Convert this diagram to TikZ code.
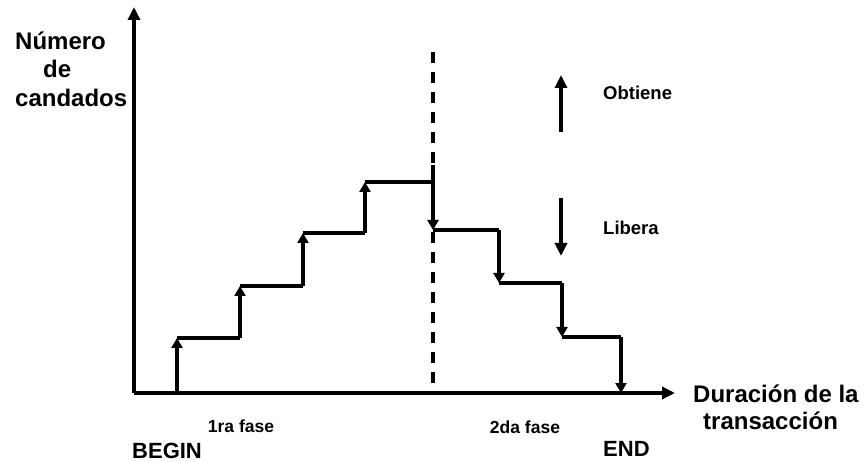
\documentclass[tikz,border=0pt]{standalone}
\usepackage{fontspec}
\setmainfont{Liberation Sans}
\usetikzlibrary{arrows.meta}
\begin{document}
\begin{tikzpicture}[x=1pt,y=-1pt,
  axis/.style={line width=3.4pt,-{Triangle[width=12pt,length=13pt]}},
  stepline/.style={line width=3.4pt,line join=miter},
  uparrow/.style={line width=3.4pt,-{Triangle[width=11pt,length=10pt]}},
  legendarrow/.style={line width=3.4pt,-{Triangle[width=12pt,length=13pt]}},
  phaseline/.style={line width=3.4pt,dash pattern=on 11pt off 9pt},
  biglbl/.style={font=\bfseries\fontsize{24}{29}\selectfont,inner sep=0pt,anchor=base west},
  midlbl/.style={font=\bfseries\fontsize{18.5}{22}\selectfont,inner sep=0pt,anchor=base west},
  phaselbl/.style={font=\bfseries\fontsize{17.5}{20}\selectfont,inner sep=0pt,anchor=base},
  endlbl/.style={font=\bfseries\fontsize{22}{26}\selectfont,inner sep=0pt,anchor=base west}]
\useasboundingbox[fill=white] (0,0) rectangle (865,462);

% axes
\coordinate (O) at (134,393);
\coordinate (ytop) at (134,7);
\coordinate (xend) at (675,393);
\draw[axis] (O) -- (ytop);
\draw[axis] (O) -- (xend);

% boundary between the two phases
\coordinate (ptop) at (433,52);
\coordinate (pbot) at (433,393);
\draw[phaseline] (ptop) -- (pbot);

% growing phase: locks obtained
\coordinate (u0) at (177,393);
\coordinate (u1) at (177,338);
\coordinate (u1r) at (240,338);
\coordinate (u2) at (240,286);
\coordinate (u2r) at (303,286);
\coordinate (u3) at (303,233);
\coordinate (u3r) at (365,233);
\coordinate (u4) at (365,182);
\coordinate (peak) at (433,182);
\coordinate (peaktop) at (433,165);
\draw[uparrow] (u0) -- (u1);
\draw[stepline] (u1) -- (u1r);
\draw[uparrow] (u1r) -- (u2);
\draw[stepline] (u2) -- (u2r);
\draw[uparrow] (u2r) -- (u3);
\draw[stepline] (u3) -- (u3r);
\draw[uparrow] (u3r) -- (u4);
\draw[stepline] (u4) -- (peak);

% shrinking phase: locks released
\coordinate (d1) at (433,230);
\coordinate (d1r) at (499,230);
\coordinate (d2) at (499,283);
\coordinate (d2r) at (562,283);
\coordinate (d3) at (562,337);
\coordinate (d3r) at (621,337);
\coordinate (d4) at (621,393);
\draw[uparrow] (peaktop) -- (d1);
\draw[stepline] (d1) -- (d1r);
\draw[uparrow] (d1r) -- (d2);
\draw[stepline] (d2) -- (d2r);
\draw[uparrow] (d2r) -- (d3);
\draw[stepline] (d3) -- (d3r);
\draw[uparrow] (d3r) -- (d4);

% legend
\coordinate (ob0) at (561,132);
\coordinate (ob1) at (561,75);
\coordinate (lb0) at (561,198);
\coordinate (lb1) at (561,256);
\draw[legendarrow] (ob0) -- (ob1);
\draw[legendarrow] (lb0) -- (lb1);
\node[midlbl] (obt) at (603,100) {Obtiene};
\node[midlbl] (lib) at (603,235) {Libera};

% axis titles
\node[biglbl] (yl1) at (15,50) {Número};
\node[biglbl] (yl2) at (43,78) {de};
\node[biglbl] (yl3) at (15,107) {candados};
\node[biglbl] (xl1) at (693,402) {Duración de la};
\node[biglbl] (xl2) at (703,429) {transacción};

% phase names and limits
\node[phaselbl] (f1) at (241,432) {1ra fase};
\node[phaselbl] (f2) at (525,433) {2da fase};
\node[endlbl] (begin) at (132,458) {BEGIN};
\node[endlbl] (end) at (603,456) {END};
\end{tikzpicture}
\end{document}
